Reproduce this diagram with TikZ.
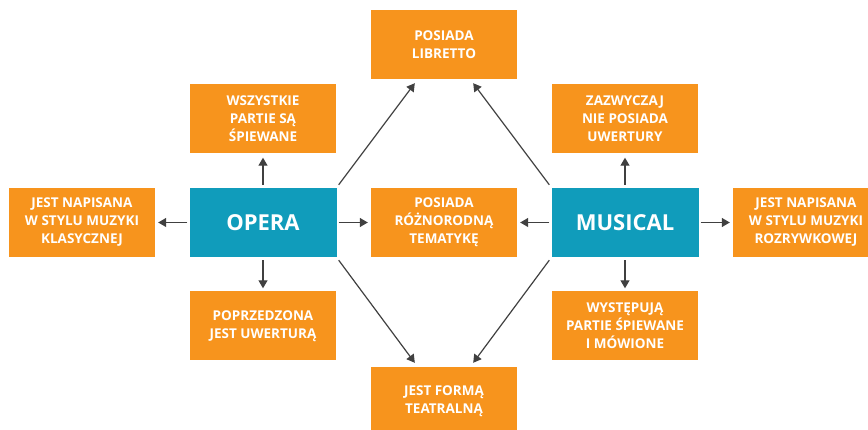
\documentclass[tikz,border=0pt]{standalone}
\usepackage{fontspec}
\setmainfont{Open Sans}
\usetikzlibrary{arrows.meta}
\definecolor{boxorange}{RGB}{247,148,29}
\definecolor{boxteal}{RGB}{16,156,187}
\definecolor{arrowgray}{RGB}{64,64,64}
\tikzset{
  obox/.style={fill=boxorange, text=white, minimum width=146pt, minimum height=69pt,
    inner sep=0pt, align=center, font=\fontsize{13.5}{18}\selectfont\bfseries},
  tbox/.style={fill=boxteal, text=white, minimum width=147pt, minimum height=69pt,
    inner sep=0pt, align=center, font=\fontsize{22}{26}\selectfont\bfseries},
  arr/.style={draw=arrowgray, line width=1.2pt, -{Triangle[length=8pt,width=9pt]}, arrowgray}
}
\begin{document}
\begin{tikzpicture}[x=1pt,y=-1pt]
\useasboundingbox (0,0) rectangle (868,430);
\clip (0,0) rectangle (868,430);
\node[obox] (lib) at (444,44.5) {POSIADA\\LIBRETTO};
\node[obox] (wsz) at (263,119) {WSZYSTKIE\\PARTIE SĄ\\ŚPIEWANE};
\node[obox] (zaz) at (625,119) {ZAZWYCZAJ\\NIE POSIADA\\UWERTURY};
\node[obox] (jl) at (82,222.5) {JEST NAPISANA\\W STYLU MUZYKI\\KLASYCZNEJ};
\node[tbox] (opera) at (263,222.5) {OPERA};
\node[obox] (roz) at (444,222.5) {POSIADA\\RÓŻNORODNĄ\\TEMATYKĘ};
\node[tbox] (mus) at (625,222.5) {MUSICAL};
\node[obox] (jr) at (806,222.5) {JEST NAPISANA\\W STYLU MUZYKI\\ROZRYWKOWEJ};
\node[obox] (pop) at (263,326) {POPRZEDZONA\\JEST UWERTURĄ};
\node[obox] (wys) at (625,326) {WYSTĘPUJĄ\\PARTIE ŚPIEWANE\\I MÓWIONE};
\node[obox] (teat) at (444,401.5) {JEST FORMĄ\\TEATRALNĄ};

\draw[arr, shorten <=3pt, shorten >=4pt] (opera.north) -- (wsz.south);
\draw[arr, shorten <=3pt, shorten >=3pt] (opera.south) -- (pop.south |- pop.north);
\draw[arr, shorten <=2pt, shorten >=3pt] (opera.west) -- (jl.east);
\draw[arr, shorten <=2pt, shorten >=3pt] (opera.east) -- (roz.west);
\draw[arr, shorten <=3pt, shorten >=4pt] (mus.north) -- (zaz.south);
\draw[arr, shorten <=3pt, shorten >=3pt] (mus.south) -- (wys.north);
\draw[arr, shorten <=2pt, shorten >=3pt] (mus.west) -- (roz.east);
\draw[arr, shorten <=2pt, shorten >=3pt] (mus.east) -- (jr.west);
\draw[arr] ([shift={(2,-3)}]opera.north east) -- ([shift={(44,4)}]lib.south west);
\draw[arr] ([shift={(2,3)}]opera.south east) -- ([shift={(44,-4)}]teat.north west);
\draw[arr] ([shift={(-2,-3)}]mus.north west) -- ([shift={(-44,4)}]lib.south east);
\draw[arr] ([shift={(-2,3)}]mus.south west) -- ([shift={(-44,-4)}]teat.north east);
\end{tikzpicture}
\end{document}
